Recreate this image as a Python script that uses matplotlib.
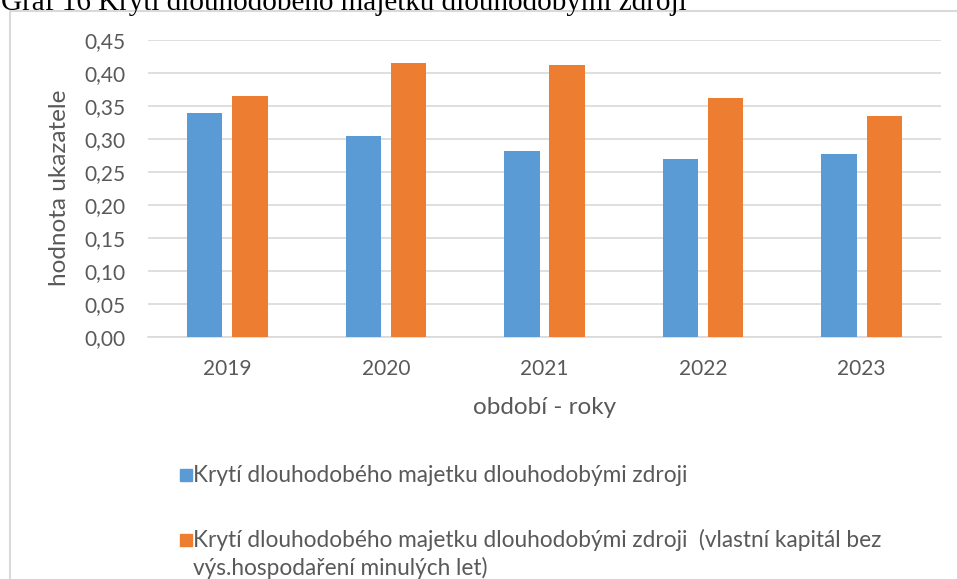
import matplotlib
matplotlib.use("Agg")
import matplotlib.pyplot as plt
from matplotlib.patches import Rectangle
import numpy as np

# data
roky = ["2019", "2020", "2021", "2022", "2023"]
kryti = [0.340, 0.304, 0.282, 0.270, 0.278]
kryti_vk = [0.365, 0.415, 0.412, 0.362, 0.335]
yticks = [0.00, 0.05, 0.10, 0.15, 0.20, 0.25, 0.30, 0.35, 0.40, 0.45]

nazev = "Graf 16 Krytí dlouhodobého majetku dlouhodobými zdroji"
leg1 = "Krytí dlouhodobého majetku dlouhodobými zdroji"
leg2 = ["Krytí dlouhodobého majetku dlouhodobými zdroji  (vlastní kapitál bez",
        "výs.hospodaření minulých let)"]

modra = "#5B9BD5"
oranzova = "#ED7D31"
seda_text = "#595959"
seda_mrizka = "#D9D9D9"

W, H = 957, 579
fig = plt.figure(figsize=(W / 100, H / 100), dpi=100)
plt.rcParams['font.family'] = ['Lato', 'DejaVu Sans']

def px(x, y):
    # pixel -> figure fraction
    return x / W, 1 - y / H

# plot area
ax = fig.add_axes([148 / W, 1 - 337 / H, (941 - 148) / W, (337 - 40) / H])

x = np.arange(len(roky))
sirka = 0.223
ax.bar(x - 0.142, kryti, sirka, color=modra, zorder=3)
ax.bar(x + 0.142, kryti_vk, sirka, color=oranzova, zorder=3)

ax.set_xlim(-0.5, len(roky) - 0.5)
ax.set_ylim(0, 0.45)
ax.set_yticks(yticks)
ax.set_yticklabels([("%.2f" % v).replace(".", ",") for v in yticks])
ax.set_xticks(x)
ax.set_xticklabels(roky)
ax.tick_params(axis="both", length=0, labelsize=15, colors=seda_text)
ax.tick_params(axis="y", pad=16)
ax.tick_params(axis="x", pad=16)
ax.grid(axis="y", color=seda_mrizka, linewidth=1.2, zorder=0)
for s in ["top", "right", "left"]:
    ax.spines[s].set_visible(False)
ax.spines["bottom"].set_color(seda_mrizka)
ax.spines["bottom"].set_linewidth(1.2)

# axis titles
fig.text(*px(60, 188), "hodnota ukazatele", rotation=90, ha="center", va="center",
         fontsize=17.5, color=seda_text)
fig.text(*px(545, 407), "období - roky", ha="center", va="center",
         fontsize=17.5, color=seda_text)

# legend drawn by hand (marker on the first line of a wrapped label)
ctverec = 12
for barva, radky, y0 in [(modra, [leg1], 475), (oranzova, leg2, 540)]:
    fig.add_artist(Rectangle(px(180, y0 + ctverec / 2), ctverec / W, ctverec / H,
                             transform=fig.transFigure, color=barva))
    for i, r in enumerate(radky):
        fig.text(*px(193, y0 + i * 28), r, ha="left", va="center",
                 fontsize=16.3, color=seda_text)

# chart frame (only left and top edges are inside the picture)
fig.add_artist(Rectangle(px(10, H + 20), 2, (H + 9) / H, transform=fig.transFigure,
                         fill=False, edgecolor=seda_mrizka, linewidth=1.5))

# caption above the chart, cut by the top edge
fig.text(*px(1, 9.5), nazev, ha="left", va="baseline", fontsize=21,
         family="Liberation Serif", color="black")

fig.savefig("out.png", dpi=100)
